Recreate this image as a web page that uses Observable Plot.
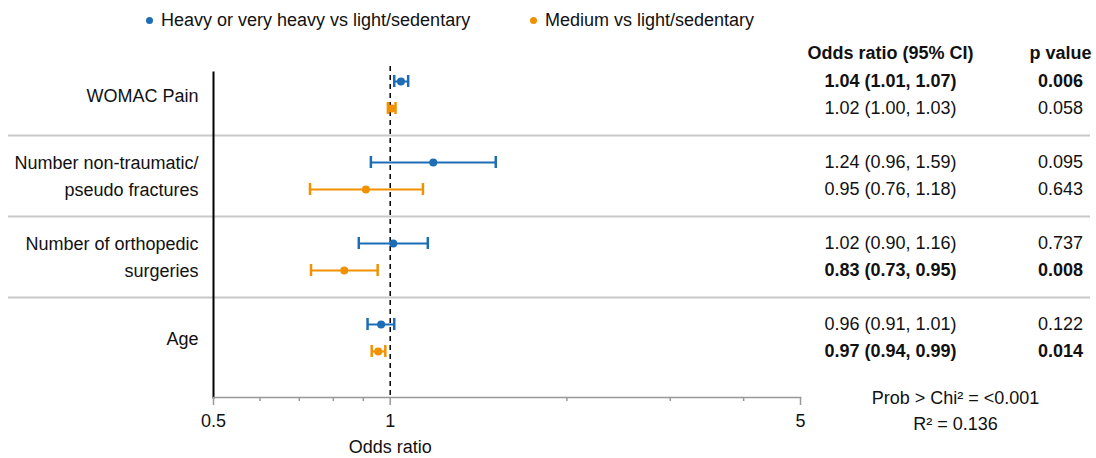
<!DOCTYPE html>
<html><head><meta charset="utf-8">
<script src="https://cdn.jsdelivr.net/npm/d3@7"></script>
<script src="https://cdn.jsdelivr.net/npm/@observablehq/plot@0.6"></script>
<style>
body{margin:0;background:#fff;font-family:"Liberation Sans",Arial,sans-serif;color:#111;}
#legend{position:relative;height:40px;font-size:18px;}
.item{position:absolute;top:0;height:40px;display:flex;align-items:center;white-space:nowrap;}
.sw{width:7px;height:7px;border-radius:50%;margin-right:8.5px;}
</style></head><body>
<div id="legend"></div><div id="chart"></div>
<script>
const groups = ["WOMAC Pain", "Number non-traumatic/\npseudo fractures", "Number of orthopedic\nsurgeries", "Age"];
const series = ["Heavy or very heavy vs light/sedentary", "Medium vs light/sedentary"];
const colors = ["#1c6db5", "#f29100"];

const heavyOR = [1.043, 1.184, 1.012, 0.965];
const heavyLo = [1.016, 0.927, 0.884, 0.915];
const heavyHi = [1.073, 1.513, 1.159, 1.016];
const mediumOR = [1.006, 0.909, 0.835, 0.954];
const mediumLo = [0.991, 0.730, 0.733, 0.930];
const mediumHi = [1.021, 1.137, 0.952, 0.981];

const heavyLabel = ["1.04 (1.01, 1.07)", "1.24 (0.96, 1.59)", "1.02 (0.90, 1.16)", "0.96 (0.91, 1.01)"];
const heavyP = ["0.006", "0.095", "0.737", "0.122"];
const mediumLabel = ["1.02 (1.00, 1.03)", "0.95 (0.76, 1.18)", "0.83 (0.73, 0.95)", "0.97 (0.94, 0.99)"];
const mediumP = ["0.058", "0.643", "0.008", "0.014"];

const headers = ["Odds ratio (95% CI)", "p value"];
const xTicks = [0.5, 1, 5];
const minorTicks = [0.6, 0.7, 0.8, 0.9, 2, 3, 4];
const stats = ["Prob > Chi\u00B2 = <0.001", "R\u00B2 = 0.136"];
const xLabel = "Odds ratio";

// build table
const rows = [];
groups.forEach((g, i) => {
  rows.push({group: g, series: series[0], or: heavyOR[i], lo: heavyLo[i], hi: heavyHi[i], label: heavyLabel[i], p: heavyP[i], u: 3 * i + 1});
  rows.push({group: g, series: series[1], or: mediumOR[i], lo: mediumLo[i], hi: mediumHi[i], label: mediumLabel[i], p: mediumP[i], u: 3 * i + 2});
});
rows.forEach(d => d.bold = +d.p < 0.05);
const groupRows = groups.map((g, i) => ({group: g, u: 3 * i + 1.5}));
const seps = groups.slice(1).map((g, i) => 3 * (i + 1));

// legend
const leg = document.getElementById("legend");
const legLeft = [145.5, 529.5];
series.forEach((s, i) => {
  const it = document.createElement("div");
  it.className = "item";
  it.style.left = legLeft[i] + "px";
  it.innerHTML = `<span class="sw" style="background:${colors[i]}"></span><span>${s}</span>`;
  leg.appendChild(it);
});

const font = "'Liberation Sans', Arial, sans-serif";
const T = {fontSize: 18, fill: "#111", lineAnchor: "middle"};
const chart = Plot.plot({
  width: 1096, height: 418,
  marginLeft: 213, marginRight: 296, marginTop: 32, marginBottom: 61,
  style: {fontFamily: font, fontSize: "18px", color: "#111", background: "#fff", overflow: "visible"},
  x: {type: "log", domain: [0.5, 5], axis: null, label: null},
  y: {domain: [12.704, 0.667], axis: null},
  color: {domain: series, range: colors},
  marks: [
    Plot.ruleY(seps, {stroke: "#c8c8c8", strokeWidth: 2, insetLeft: -205, insetRight: -290}),
    Plot.ruleX([1], {stroke: "#000", strokeWidth: 1.5, strokeDasharray: "5,4", insetTop: -6}),
    Plot.frame({anchor: "left", stroke: "#000", strokeWidth: 2}),
    Plot.frame({anchor: "bottom", stroke: "#999", strokeWidth: 1.5}),
    Plot.axisX({ticks: xTicks, tickSize: 8, tickPadding: 9, tickFormat: d => String(d), stroke: "#999", strokeWidth: 1.5, fill: "#111", fontSize: 18, label: null}),
    Plot.axisX({ticks: minorTicks, tickSize: 4, tickFormat: () => "", stroke: "#999", strokeWidth: 1.5, label: null}),
    Plot.text([xLabel], {...T, x: () => 1, frameAnchor: "bottom", dy: 50}),
    Plot.text(groupRows, {...T, y: "u", text: "group", frameAnchor: "left", dx: -15, dy: -2, textAnchor: "end", lineHeight: 1.5}),
    Plot.ruleY(rows, {x1: "lo", x2: "hi", y: "u", stroke: "series", strokeWidth: 2}),
    Plot.ruleX(rows, {x: "lo", y1: "u", y2: "u", insetTop: -6, insetBottom: -6, stroke: "series", strokeWidth: 2.5}),
    Plot.ruleX(rows, {x: "hi", y1: "u", y2: "u", insetTop: -6, insetBottom: -6, stroke: "series", strokeWidth: 2.5}),
    Plot.dot(rows, {x: "or", y: "u", fill: "series", r: 4}),
    Plot.text([headers[0]], {...T, frameAnchor: "top-right", dx: 90, dy: -19, textAnchor: "middle", fontWeight: "bold"}),
    Plot.text([headers[1]], {...T, frameAnchor: "top-right", dx: 260, dy: -19, textAnchor: "middle", fontWeight: "bold"}),
    Plot.text(rows.filter(d => !d.bold), {...T, y: "u", text: "label", frameAnchor: "right", dx: 90, textAnchor: "middle"}),
    Plot.text(rows.filter(d => d.bold), {...T, y: "u", text: "label", frameAnchor: "right", dx: 90, textAnchor: "middle", fontWeight: "bold"}),
    Plot.text(rows.filter(d => !d.bold), {...T, y: "u", text: "p", frameAnchor: "right", dx: 260, textAnchor: "middle"}),
    Plot.text(rows.filter(d => d.bold), {...T, y: "u", text: "p", frameAnchor: "right", dx: 260, textAnchor: "middle", fontWeight: "bold"}),
    Plot.text([stats.join("\n")], {...T, frameAnchor: "bottom-right", dx: 155, dy: 11, textAnchor: "middle", lineHeight: 1.45})
  ]
});
document.getElementById("chart").appendChild(chart);
</script>
</body></html>
